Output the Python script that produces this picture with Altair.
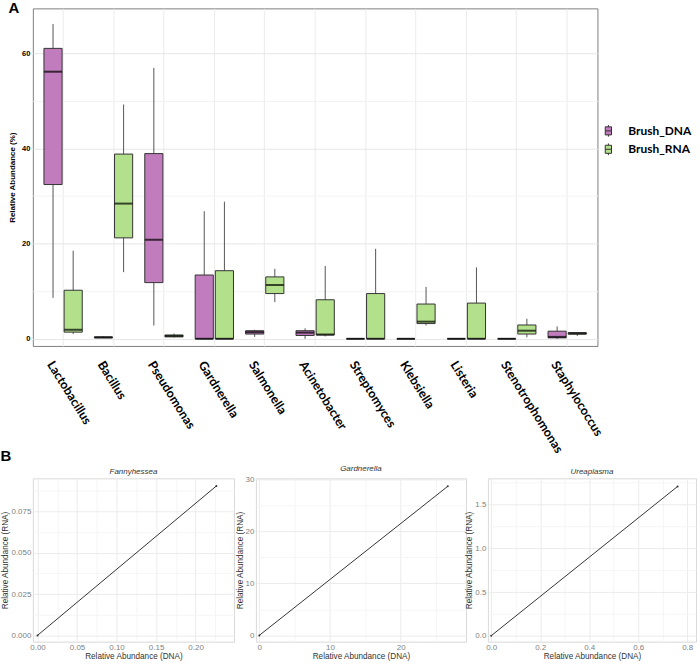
import altair as alt
import pandas as pd

# ---------------- Panel A data ----------------
genera = ["Lactobacillus", "Bacillus", "Pseudomonas", "Gardnerella", "Salmonella",
          "Acinetobacter", "Streptomyces", "Klebsiella", "Listeria",
          "Stenotrophomonas", "Staphylococcus"]
groups = ["Brush_DNA", "Brush_RNA"]

dna_lo  = [8.6, 0.2, 2.8, 0.0, 0.4, 0.0, 0.0, 0.0, 0.0, 0.0, 0.0]
dna_q1  = [32.4, 0.2, 11.8, 0.0, 1.0, 0.7, 0.0, 0.0, 0.0, 0.0, 0.2]
dna_med = [56.1, 0.3, 20.8, 0.0, 1.4, 1.3, 0.0, 0.0, 0.0, 0.0, 0.4]
dna_q3  = [61.0, 0.4, 38.9, 13.4, 1.7, 1.7, 0.0, 0.0, 0.0, 0.0, 1.6]
dna_hi  = [66.1, 0.5, 56.9, 26.8, 1.9, 2.2, 0.0, 0.0, 0.0, 0.0, 2.6]

rna_lo  = [1.0, 14.0, 0.3, 0.0, 7.7, 0.5, 0.0, 2.8, 0.0, 0.3, 0.6]
rna_q1  = [1.4, 21.2, 0.4, 0.0, 9.5, 0.8, 0.0, 3.2, 0.0, 1.0, 1.0]
rna_med = [1.9, 28.4, 0.6, 0.0, 11.3, 0.9, 0.0, 3.6, 0.0, 1.7, 1.1]
rna_q3  = [10.2, 38.8, 0.8, 14.3, 13.0, 8.2, 9.5, 7.3, 7.5, 2.9, 1.3]
rna_hi  = [18.5, 49.2, 1.1, 28.8, 14.7, 15.3, 18.9, 10.9, 15.0, 4.2, 1.4]

y_ticks_a = [0, 10, 20, 30, 40, 50, 60]

# ---------------- Panel B data ----------------
fanny_dna = [0.0, 0.2263]
fanny_rna = [0.0, 0.0903]
gard_dna = [0.0, 26.66]
gard_rna = [0.0, 28.67]
urea_dna = [0.0, 0.761]
urea_rna = [0.0, 1.708]

fanny_x_ticks = [0, 0.025, 0.05, 0.075, 0.1, 0.125, 0.15, 0.175, 0.2, 0.225]
fanny_y_ticks = [0, 0.0125, 0.025, 0.0375, 0.05, 0.0625, 0.075, 0.0875]
gard_x_ticks = [0, 5, 10, 15, 20, 25]
gard_y_ticks = [0, 5, 10, 15, 20, 25, 30]
urea_x_ticks = [0, 0.1, 0.2, 0.3, 0.4, 0.5, 0.6, 0.7, 0.8]
urea_y_ticks = [0, 0.25, 0.5, 0.75, 1.0, 1.25, 1.5, 1.75]

PURPLE = "#C07CBC"
GREEN = "#B3E08B"

rows = []
for i, g in enumerate(genera):
    rows.append(dict(genus=g, group=groups[0], lo=dna_lo[i], q1=dna_q1[i], med=dna_med[i], q3=dna_q3[i], hi=dna_hi[i]))
    rows.append(dict(genus=g, group=groups[1], lo=rna_lo[i], q1=rna_q1[i], med=rna_med[i], q3=rna_q3[i], hi=rna_hi[i]))
df_a = pd.DataFrame(rows)


def major_test(step):
    return f"abs(datum.value/{step} - round(datum.value/{step})) < 1e-6"


x_a = alt.X("genus:N", sort=genera,
            scale=alt.Scale(paddingInner=0.2, paddingOuter=0.2),
            axis=alt.Axis(title=None, labelAngle=58, labelAlign="left", labelBaseline="middle",
                          labelOffset=-13, labelPadding=16, labelFont="Lato", labelFontWeight="bold",
                          labelFontSize=12.5, labelColor="black", ticks=False, domain=False,
                          grid=True, gridColor="#EBEBEB", labelOverlap=False, labelLimit=400))
xo_a = alt.XOffset("group:N", scale=alt.Scale(domain=groups, paddingInner=0.1, paddingOuter=0.05))
y_scale_a = alt.Scale(domain=[-1.5, 69.4], nice=False, zero=False)
y_axis_a = alt.Axis(values=y_ticks_a, title="Relative Abundance (%)",
                    labelExpr=f"{major_test(20)} ? datum.label : ''",
                    gridColor={"condition": {"test": major_test(20), "value": "#E6E6E6"}, "value": "#F3F3F3"},
                    ticks=False, domain=False, labelFont="Liberation Sans", labelFontWeight="bold",
                    labelFontSize=7.5, labelColor="black", labelPadding=3,
                    titleFont="Liberation Sans", titleFontWeight="bold", titleFontSize=8,
                    titleColor="black", titlePadding=5)

LEGEND_GLYPH = "M-0.7,-0.9H0.7V0.9H-0.7Z M-0.7,0H0.7 M0,-0.9V-1.3 M0,0.9V1.3"

base = alt.Chart(df_a).encode(x=x_a, xOffset=xo_a)
whisk = base.mark_rule(color="#555555", strokeWidth=1).encode(
    y=alt.Y("lo:Q", scale=y_scale_a, axis=y_axis_a), y2="hi:Q")
box = base.mark_bar(stroke="#333333", strokeWidth=1).encode(
    y=alt.Y("q1:Q"), y2="q3:Q",
    color=alt.Color("group:N", scale=alt.Scale(domain=groups, range=[PURPLE, GREEN]),
                    legend=alt.Legend(title=None, orient="none", legendX=572, legendY=117,
                                      symbolType=LEGEND_GLYPH,
                                      symbolSize=81, symbolStrokeColor="#333333", symbolStrokeWidth=1,
                                      labelFont="Lato", labelFontWeight="bold", labelFontSize=12,
                                      labelColor="black", labelOffset=14, rowPadding=2.5, padding=0)))
med = base.mark_tick(color="black", thickness=2, size=18).encode(y=alt.Y("med:Q"))

panel_a = alt.layer(whisk, box, med).properties(
    width=567, height=339,
    title=alt.Title("A", anchor="start", frame="bounds", fontSize=15, font="Liberation Sans",
                    fontWeight="bold", color="black", offset=-8),
    view=alt.ViewBackground(stroke="#7F7F7F", strokeWidth=1, fill="white"))


def grid_axis(values, step, fmt, title):
    return alt.Axis(values=values, format=fmt, title=title,
                    labelExpr=f"{major_test(step)} ? datum.label : ''",
                    gridColor={"condition": {"test": major_test(step), "value": "#EBEBEB"}, "value": "#F5F5F5"},
                    ticks=False, domain=False, labelFlush=False, labelOverlap=False,
                    labelColor="#808080", labelFontSize=8, labelFont="Liberation Sans", labelPadding=2,
                    titleColor="#333333", titleFontSize=8.2, titleFontWeight="normal",
                    titleFont="Liberation Sans", titlePadding=1)


def bpanel(name, dna, rna, xdom, ydom, xt, xs, xf, yt, ys, yf, w):
    d = pd.DataFrame({"dna": dna, "rna": rna})
    b = alt.Chart(d).encode(
        x=alt.X("dna:Q", scale=alt.Scale(domain=xdom, nice=False, zero=False),
                axis=grid_axis(xt, xs, xf, "Relative Abundance (DNA)")),
        y=alt.Y("rna:Q", scale=alt.Scale(domain=ydom, nice=False, zero=False),
                axis=grid_axis(yt, ys, yf, "Relative Abundance (RNA)")))
    ln = b.mark_line(color="#333333", strokeWidth=1)
    pt = b.mark_point(filled=True, size=4, color="#333333", opacity=1)
    return alt.layer(ln, pt).properties(
        width=w, height=164,
        title=alt.Title(name, fontStyle="italic", fontWeight="normal", fontSize=8, color="#333333",
                        font="Liberation Sans", offset=2),
        view=alt.ViewBackground(stroke="#D9D9D9", strokeWidth=1, fill="white"))


b1 = bpanel("Fannyhessea", fanny_dna, fanny_rna, [-0.0059, 0.2486], [-0.0038, 0.0949],
            fanny_x_ticks, 0.05, ".2f", fanny_y_ticks, 0.025, ".3f", 202)
b2 = bpanel("Gardnerella", gard_dna, gard_rna, [-0.48, 29.24], [-1.21, 30.2],
            gard_x_ticks, 10, "d", gard_y_ticks, 10, "d", 211)
b3 = bpanel("Ureaplasma", urea_dna, urea_rna, [-0.0134, 0.836], [-0.068, 1.8],
            urea_x_ticks, 0.2, ".1f", urea_y_ticks, 0.5, ".1f", 209)

panel_b = alt.hconcat(b1, b2, b3, spacing=22, bounds="flush").properties(
    title=alt.Title("B", anchor="start", frame="bounds", fontSize=15, font="Liberation Sans",
                    fontWeight="bold", color="black", offset=1))

chart = alt.vconcat(panel_a, panel_b, spacing=133, bounds="flush").properties(
    padding={"left": 0, "top": -1, "right": 3, "bottom": 2},
    background="white")

chart.save("out.html", embed_options={"renderer": "svg", "actions": False})
